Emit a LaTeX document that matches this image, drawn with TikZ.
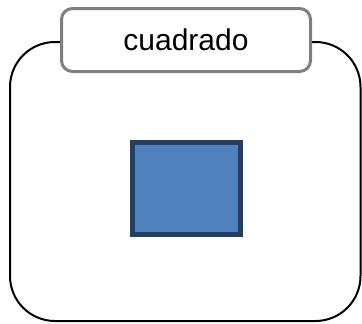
\documentclass[tikz,border=0pt]{standalone}
\usepackage{fontspec}
\setmainfont{Liberation Sans}
\usepackage{tikz}
\usetikzlibrary{positioning,calc,backgrounds}
\definecolor{cFrame}{HTML}{000000}
\definecolor{cGrayLine}{HTML}{7F7F7F}
\definecolor{cFill}{HTML}{4F81BD}
\definecolor{cEdge}{HTML}{243F60}
\tikzset{
  frame/.style={draw=cFrame,line width=2pt,rounded corners=45pt},
  titlebox/.style={draw=cGrayLine,fill=white,line width=3pt,rounded corners=11pt,
    minimum width=249pt,minimum height=63pt,inner sep=0pt,
    font=\fontsize{30}{36}\selectfont},
  sqbox/.style={draw=cEdge,fill=cFill,line width=5pt,minimum width=108pt,minimum height=92pt,inner sep=0pt},
}
\begin{document}
\begin{tikzpicture}[x=1pt,y=-1pt]
    \useasboundingbox (0,0) rectangle (362,324);
    \coordinate (bl) at (10,321);
    \coordinate (tr) at (360.5,42);
    \node[titlebox] (title) at (186,40) {cuadrado};
    \node[sqbox] (sq) at (186.5,188.7) {};
    % frame around the square, opened by the title
    \begin{scope}[on background layer]
      \draw[frame] ($(title.west)+(0,2)$) -| (bl) -| (tr) -- ($(title.east)+(0,2)$);
    \end{scope}
\end{tikzpicture}
\end{document}
